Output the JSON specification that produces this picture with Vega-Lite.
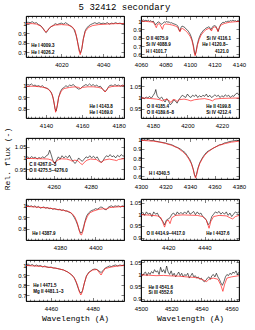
{
"$schema": "https://vega.github.io/schema/vega-lite/v6.json",
"autosize": {"type": "pad"},
"padding": {"left": 2, "top": 3, "right": 4, "bottom": 3},
"title": {"text": "5 32412 secondary", "font": "Liberation Mono", "fontSize": 9, "fontWeight": "normal", "anchor": "middle", "offset": 3, "color": "black"},
"datasets": {
"o1": [{"w":4003,"f":1.01},{"w":4004,"f":1.015},{"w":4005,"f":1.01},{"w":4006,"f":1.02},{"w":4007,"f":1.005},{"w":4008,"f":1.01},{"w":4009,"f":0.99},{"w":4010,"f":0.98},{"w":4011,"f":0.955},{"w":4012,"f":0.92},{"w":4012.7,"f":0.905},{"w":4013.5,"f":0.93},{"w":4014.5,"f":0.96},{"w":4016,"f":0.98},{"w":4017,"f":1.0},{"w":4018,"f":0.99},{"w":4019,"f":1.0},{"w":4020,"f":1.005},{"w":4021,"f":0.995},{"w":4022,"f":1.01},{"w":4023,"f":0.995},{"w":4024,"f":0.98},{"w":4025,"f":0.965},{"w":4026,"f":0.94},{"w":4027,"f":0.88},{"w":4028,"f":0.78},{"w":4028.7,"f":0.71},{"w":4029.2,"f":0.695},{"w":4029.8,"f":0.74},{"w":4030.5,"f":0.84},{"w":4031.3,"f":0.92},{"w":4032,"f":0.95},{"w":4033,"f":0.975},{"w":4034,"f":0.99},{"w":4035,"f":1.0},{"w":4036,"f":1.01},{"w":4037,"f":1.0},{"w":4038,"f":1.01},{"w":4039,"f":1.0},{"w":4040,"f":1.005},{"w":4041,"f":1.0},{"w":4042,"f":1.01},{"w":4043,"f":0.995},{"w":4044,"f":1.005},{"w":4045,"f":1.0},{"w":4046,"f":1.01},{"w":4047,"f":1.0},{"w":4048,"f":1.005},{"w":4049,"f":1.0},{"w":4050,"f":1.0}],
"m1": [{"w":4003,"f":1.0},{"w":4006,"f":1.0},{"w":4008,"f":0.995},{"w":4010,"f":0.975},{"w":4011.5,"f":0.94},{"w":4012.5,"f":0.91},{"w":4013.5,"f":0.935},{"w":4015,"f":0.97},{"w":4017,"f":0.985},{"w":4020,"f":0.99},{"w":4023,"f":0.985},{"w":4025,"f":0.97},{"w":4026.5,"f":0.93},{"w":4027.5,"f":0.84},{"w":4028.3,"f":0.73},{"w":4029,"f":0.675},{"w":4029.7,"f":0.73},{"w":4030.5,"f":0.84},{"w":4031.5,"f":0.92},{"w":4033,"f":0.96},{"w":4035,"f":0.98},{"w":4038,"f":0.99},{"w":4042,"f":0.995},{"w":4046,"f":1.0},{"w":4050,"f":1.0}],
"a1": [{"w":4005.5,"f":0.765,"t":"He I 4009.3"},{"w":4005.5,"f":0.695,"t":"He I 4026.2"}],
"o2": [{"w":4060,"f":1.01},{"w":4061,"f":1.005},{"w":4062,"f":1.015},{"w":4063,"f":1.0},{"w":4064,"f":1.01},{"w":4065,"f":1.0},{"w":4066,"f":1.01},{"w":4067,"f":0.995},{"w":4068,"f":1.005},{"w":4069,"f":0.99},{"w":4070,"f":1.0},{"w":4071,"f":0.975},{"w":4072,"f":0.955},{"w":4073,"f":0.975},{"w":4074,"f":0.99},{"w":4075,"f":0.985},{"w":4076,"f":0.97},{"w":4077,"f":0.96},{"w":4078,"f":0.975},{"w":4079,"f":0.99},{"w":4080,"f":0.985},{"w":4081,"f":0.995},{"w":4082,"f":0.985},{"w":4083,"f":0.99},{"w":4084,"f":0.975},{"w":4085,"f":0.98},{"w":4086,"f":0.97},{"w":4087,"f":0.965},{"w":4088,"f":0.96},{"w":4089,"f":0.955},{"w":4090,"f":0.94},{"w":4091,"f":0.9},{"w":4091.8,"f":0.88},{"w":4092.6,"f":0.92},{"w":4093.5,"f":0.94},{"w":4095,"f":0.93},{"w":4096,"f":0.92},{"w":4097,"f":0.9},{"w":4098,"f":0.89},{"w":4099,"f":0.87},{"w":4100,"f":0.845},{"w":4101,"f":0.81},{"w":4102,"f":0.76},{"w":4103,"f":0.69},{"w":4103.8,"f":0.62},{"w":4104.3,"f":0.6},{"w":4105,"f":0.64},{"w":4106,"f":0.72},{"w":4107,"f":0.78},{"w":4108,"f":0.82},{"w":4109,"f":0.85},{"w":4110,"f":0.87},{"w":4111,"f":0.89},{"w":4112,"f":0.9},{"w":4113,"f":0.915},{"w":4114,"f":0.92},{"w":4115,"f":0.93},{"w":4116,"f":0.925},{"w":4117,"f":0.895},{"w":4118,"f":0.92},{"w":4119,"f":0.94},{"w":4120,"f":0.945},{"w":4121,"f":0.94},{"w":4122,"f":0.91},{"w":4123,"f":0.875},{"w":4124,"f":0.92},{"w":4125,"f":0.96},{"w":4126,"f":0.975},{"w":4127,"f":0.985},{"w":4128,"f":0.98},{"w":4129,"f":0.995},{"w":4130,"f":0.99},{"w":4131,"f":1.0},{"w":4132,"f":0.995},{"w":4133,"f":1.005},{"w":4134,"f":1.0},{"w":4135,"f":1.01},{"w":4136,"f":1.0},{"w":4137,"f":1.005},{"w":4138,"f":0.995},{"w":4139,"f":1.005},{"w":4140,"f":1.0}],
"m2": [{"w":4060,"f":1.0},{"w":4064,"f":0.995},{"w":4068,"f":0.99},{"w":4070,"f":0.985},{"w":4071.5,"f":0.95},{"w":4072.5,"f":0.92},{"w":4073.5,"f":0.96},{"w":4075,"f":0.97},{"w":4076.5,"f":0.93},{"w":4077.5,"f":0.9},{"w":4078.5,"f":0.95},{"w":4080,"f":0.965},{"w":4083,"f":0.96},{"w":4086,"f":0.95},{"w":4088,"f":0.94},{"w":4090,"f":0.925},{"w":4091,"f":0.89},{"w":4091.8,"f":0.87},{"w":4092.6,"f":0.905},{"w":4094,"f":0.91},{"w":4096,"f":0.89},{"w":4098,"f":0.86},{"w":4100,"f":0.82},{"w":4101.5,"f":0.77},{"w":4102.5,"f":0.71},{"w":4103.5,"f":0.62},{"w":4104.2,"f":0.585},{"w":4105,"f":0.63},{"w":4106,"f":0.71},{"w":4107.5,"f":0.78},{"w":4109,"f":0.83},{"w":4111,"f":0.87},{"w":4113,"f":0.895},{"w":4115,"f":0.91},{"w":4116.5,"f":0.905},{"w":4117.5,"f":0.88},{"w":4118.5,"f":0.915},{"w":4120,"f":0.93},{"w":4121.5,"f":0.92},{"w":4122.8,"f":0.875},{"w":4123.8,"f":0.92},{"w":4125,"f":0.95},{"w":4128,"f":0.97},{"w":4132,"f":0.985},{"w":4136,"f":0.99},{"w":4140,"f":0.995}],
"a2": [{"w":4064,"f":0.785,"t":"O II 4075.9"},{"w":4064,"f":0.708,"t":"Si IV 4088.9"},{"w":4064,"f":0.63,"t":"H I 4101.7"},{"w":4113.5,"f":0.785,"t":"Si IV 4116.1"},{"w":4110,"f":0.708,"t":"He I 4120.8–"},{"w":4120.4,"f":0.63,"t":"4121.0"}],
"o3": [{"w":4129,"f":1.0},{"w":4130,"f":1.01},{"w":4131,"f":1.005},{"w":4132,"f":1.015},{"w":4133,"f":1.0},{"w":4134,"f":1.005},{"w":4135,"f":0.995},{"w":4136,"f":1.0},{"w":4137,"f":0.99},{"w":4138,"f":1.0},{"w":4139,"f":0.985},{"w":4140,"f":0.98},{"w":4141,"f":0.975},{"w":4142,"f":0.96},{"w":4143,"f":0.94},{"w":4144,"f":0.89},{"w":4145,"f":0.8},{"w":4145.6,"f":0.78},{"w":4146.3,"f":0.83},{"w":4147,"f":0.9},{"w":4148,"f":0.95},{"w":4149,"f":0.975},{"w":4150,"f":0.985},{"w":4151,"f":1.0},{"w":4152,"f":0.99},{"w":4153,"f":1.005},{"w":4154,"f":1.0},{"w":4155,"f":1.01},{"w":4156,"f":0.995},{"w":4157,"f":0.98},{"w":4158,"f":0.97},{"w":4159,"f":0.975},{"w":4160,"f":0.99},{"w":4161,"f":1.0},{"w":4162,"f":1.01},{"w":4163,"f":1.0},{"w":4164,"f":1.015},{"w":4165,"f":1.0},{"w":4166,"f":1.01},{"w":4167,"f":0.995},{"w":4168,"f":1.005},{"w":4169,"f":0.99},{"w":4170,"f":0.995},{"w":4171,"f":0.975},{"w":4172,"f":0.955},{"w":4172.8,"f":0.95},{"w":4173.5,"f":0.965},{"w":4174.5,"f":0.99},{"w":4175,"f":1.0},{"w":4176,"f":1.005},{"w":4177,"f":0.995},{"w":4178,"f":1.01},{"w":4179,"f":1.0},{"w":4180,"f":1.005},{"w":4181,"f":0.995},{"w":4182,"f":1.005},{"w":4183,"f":1.0}],
"m3": [{"w":4129,"f":0.995},{"w":4133,"f":0.995},{"w":4137,"f":0.99},{"w":4140,"f":0.98},{"w":4142,"f":0.96},{"w":4143.5,"f":0.92},{"w":4144.5,"f":0.85},{"w":4145.3,"f":0.77},{"w":4146,"f":0.81},{"w":4147,"f":0.9},{"w":4148.5,"f":0.955},{"w":4150,"f":0.975},{"w":4153,"f":0.985},{"w":4156,"f":0.99},{"w":4158,"f":0.985},{"w":4159,"f":0.975},{"w":4160,"f":0.985},{"w":4163,"f":0.99},{"w":4166,"f":0.99},{"w":4169,"f":0.985},{"w":4171,"f":0.975},{"w":4172,"f":0.955},{"w":4172.6,"f":0.945},{"w":4173.3,"f":0.96},{"w":4174.5,"f":0.985},{"w":4177,"f":0.995},{"w":4180,"f":0.995},{"w":4183,"f":1.0}],
"a3": [{"w":4164,"f":0.813,"t":"He I 4143.8"},{"w":4164,"f":0.76,"t":"He I 4169.0"}],
"o4": [{"w":4173,"f":0.998},{"w":4174,"f":1.0},{"w":4175,"f":0.995},{"w":4176,"f":1.002},{"w":4177,"f":0.998},{"w":4178,"f":1.005},{"w":4179,"f":0.997},{"w":4180,"f":1.008},{"w":4181,"f":1.02},{"w":4181.6,"f":1.035},{"w":4182.3,"f":1.01},{"w":4183,"f":1.0},{"w":4184,"f":0.995},{"w":4185,"f":1.002},{"w":4186,"f":0.99},{"w":4187,"f":0.98},{"w":4188,"f":0.995},{"w":4189,"f":0.985},{"w":4190,"f":0.968},{"w":4191,"f":0.975},{"w":4192,"f":0.99},{"w":4193,"f":0.985},{"w":4194,"f":0.975},{"w":4195,"f":0.99},{"w":4196,"f":1.0},{"w":4197,"f":1.01},{"w":4198,"f":1.005},{"w":4199,"f":1.0},{"w":4200,"f":1.015},{"w":4201,"f":1.005},{"w":4202,"f":1.0},{"w":4203,"f":1.01},{"w":4204,"f":1.005},{"w":4205,"f":1.012},{"w":4206,"f":1.0},{"w":4207,"f":1.008},{"w":4208,"f":1.002},{"w":4209,"f":1.01},{"w":4210,"f":1.005},{"w":4211,"f":1.015},{"w":4212,"f":1.002},{"w":4213,"f":1.01},{"w":4214,"f":1.0},{"w":4215,"f":1.005},{"w":4216,"f":1.012},{"w":4217,"f":1.005},{"w":4218,"f":1.01},{"w":4219,"f":1.0},{"w":4220,"f":1.008},{"w":4221,"f":1.002},{"w":4222,"f":1.012},{"w":4223,"f":1.005},{"w":4224,"f":1.01},{"w":4225,"f":1.0},{"w":4226,"f":1.008},{"w":4227,"f":1.005},{"w":4228,"f":1.015},{"w":4229,"f":1.02},{"w":4230,"f":1.01}],
"m4": [{"w":4173,"f":0.998},{"w":4176,"f":0.997},{"w":4179,"f":0.995},{"w":4182,"f":0.993},{"w":4184,"f":0.99},{"w":4185.5,"f":0.985},{"w":4186.5,"f":0.99},{"w":4188,"f":0.992},{"w":4189.5,"f":0.985},{"w":4190.5,"f":0.978},{"w":4191.5,"f":0.99},{"w":4193,"f":0.99},{"w":4194,"f":0.982},{"w":4195,"f":0.99},{"w":4198,"f":0.993},{"w":4200,"f":0.99},{"w":4202,"f":0.985},{"w":4204,"f":0.99},{"w":4207,"f":0.993},{"w":4210,"f":0.995},{"w":4213,"f":0.99},{"w":4214.5,"f":0.985},{"w":4216,"f":0.993},{"w":4220,"f":0.996},{"w":4225,"f":0.997},{"w":4230,"f":0.998}],
"a4": [{"w":4176.3,"f":0.96,"t":"O II 4185.4"},{"w":4176.3,"f":0.93,"t":"O II 4189.6–8"},{"w":4211,"f":0.96,"t":"He II 4199.8"},{"w":4211,"f":0.93,"t":"Si IV 4212.4"}],
"o5": [{"w":4245,"f":1.0},{"w":4246,"f":1.005},{"w":4247,"f":0.998},{"w":4248,"f":1.006},{"w":4249,"f":1.0},{"w":4250,"f":1.004},{"w":4251,"f":0.995},{"w":4252,"f":1.002},{"w":4253,"f":0.998},{"w":4254,"f":1.005},{"w":4255,"f":1.0},{"w":4256,"f":1.01},{"w":4257,"f":1.015},{"w":4257.8,"f":1.035},{"w":4258.6,"f":1.015},{"w":4259.5,"f":0.99},{"w":4260.5,"f":0.975},{"w":4261.5,"f":0.99},{"w":4262.5,"f":1.005},{"w":4263.5,"f":0.995},{"w":4264.5,"f":1.01},{"w":4265.5,"f":1.0},{"w":4266.5,"f":1.008},{"w":4267.5,"f":1.0},{"w":4268.5,"f":1.012},{"w":4269.5,"f":0.995},{"w":4270.5,"f":0.985},{"w":4271.5,"f":0.975},{"w":4272.5,"f":0.985},{"w":4273.5,"f":1.0},{"w":4274.5,"f":0.99},{"w":4275.5,"f":0.985},{"w":4276.5,"f":0.995},{"w":4277.5,"f":1.005},{"w":4278.5,"f":1.0},{"w":4279.5,"f":1.01},{"w":4280.5,"f":1.0},{"w":4281.5,"f":1.008},{"w":4282.5,"f":0.998},{"w":4283.5,"f":1.005},{"w":4284.5,"f":0.99},{"w":4285.5,"f":0.98},{"w":4286.5,"f":0.985},{"w":4287.5,"f":1.0},{"w":4288.5,"f":1.01},{"w":4289.5,"f":1.005},{"w":4290.5,"f":1.015},{"w":4291.5,"f":1.005},{"w":4292.5,"f":1.01},{"w":4293.5,"f":1.0},{"w":4294.5,"f":1.012},{"w":4295.5,"f":1.005},{"w":4296.5,"f":1.015},{"w":4297.5,"f":1.008},{"w":4298,"f":1.01}],
"m5": [{"w":4245,"f":0.998},{"w":4250,"f":0.997},{"w":4254,"f":0.996},{"w":4257,"f":0.995},{"w":4259,"f":0.99},{"w":4260.5,"f":0.975},{"w":4262,"f":0.99},{"w":4264,"f":0.996},{"w":4267,"f":0.995},{"w":4269,"f":0.99},{"w":4270,"f":0.985},{"w":4271,"f":0.99},{"w":4273,"f":0.988},{"w":4274.5,"f":0.975},{"w":4275.5,"f":0.97},{"w":4276.5,"f":0.98},{"w":4278,"f":0.99},{"w":4280,"f":0.995},{"w":4283,"f":0.993},{"w":4285,"f":0.982},{"w":4286,"f":0.98},{"w":4287,"f":0.99},{"w":4290,"f":0.995},{"w":4293,"f":0.99},{"w":4294,"f":0.988},{"w":4295,"f":0.993},{"w":4298,"f":0.997}],
"a5": [{"w":4246.7,"f":0.968,"t":"C II 4267.0–3"},{"w":4246.7,"f":0.94,"t":"O II 4275.5–4276.0"}],
"o6": [{"w":4300,"f":1.0},{"w":4302,"f":1.01},{"w":4304,"f":0.995},{"w":4306,"f":1.005},{"w":4308,"f":0.99},{"w":4310,"f":0.995},{"w":4312,"f":0.985},{"w":4314,"f":0.98},{"w":4316,"f":0.975},{"w":4318,"f":0.97},{"w":4320,"f":0.965},{"w":4322,"f":0.955},{"w":4324,"f":0.95},{"w":4326,"f":0.94},{"w":4328,"f":0.925},{"w":4330,"f":0.915},{"w":4332,"f":0.9},{"w":4334,"f":0.88},{"w":4336,"f":0.86},{"w":4338,"f":0.82},{"w":4340,"f":0.78},{"w":4341.5,"f":0.73},{"w":4342.8,"f":0.67},{"w":4343.8,"f":0.61},{"w":4344.5,"f":0.595},{"w":4345.3,"f":0.62},{"w":4346.5,"f":0.69},{"w":4348,"f":0.75},{"w":4350,"f":0.8},{"w":4352,"f":0.84},{"w":4354,"f":0.87},{"w":4356,"f":0.885},{"w":4358,"f":0.9},{"w":4360,"f":0.915},{"w":4362,"f":0.93},{"w":4364,"f":0.945},{"w":4366,"f":0.95},{"w":4368,"f":0.965},{"w":4370,"f":0.97},{"w":4372,"f":0.98},{"w":4374,"f":0.985},{"w":4376,"f":0.99},{"w":4378,"f":0.995},{"w":4380,"f":0.99}],
"m6": [{"w":4300,"f":0.995},{"w":4305,"f":0.99},{"w":4310,"f":0.985},{"w":4315,"f":0.975},{"w":4320,"f":0.96},{"w":4325,"f":0.94},{"w":4330,"f":0.91},{"w":4334,"f":0.87},{"w":4337,"f":0.83},{"w":4339,"f":0.79},{"w":4341,"f":0.74},{"w":4342.5,"f":0.68},{"w":4343.7,"f":0.61},{"w":4344.5,"f":0.58},{"w":4345.3,"f":0.61},{"w":4346.5,"f":0.68},{"w":4348,"f":0.74},{"w":4350,"f":0.79},{"w":4352,"f":0.83},{"w":4355,"f":0.87},{"w":4359,"f":0.91},{"w":4364,"f":0.94},{"w":4369,"f":0.96},{"w":4374,"f":0.975},{"w":4380,"f":0.985}],
"a6": [{"w":4306.5,"f":0.63,"t":"H I 4340.5"}],
"o7": [{"w":4361,"f":1.0},{"w":4362,"f":1.005},{"w":4363,"f":0.995},{"w":4364,"f":1.0},{"w":4365,"f":0.99},{"w":4366,"f":1.0},{"w":4367,"f":0.985},{"w":4368,"f":0.995},{"w":4369,"f":0.98},{"w":4370,"f":0.985},{"w":4371,"f":0.99},{"w":4372,"f":0.98},{"w":4373,"f":0.985},{"w":4374,"f":0.975},{"w":4375,"f":0.98},{"w":4376,"f":0.97},{"w":4377,"f":0.975},{"w":4378,"f":0.97},{"w":4379,"f":0.965},{"w":4380,"f":0.97},{"w":4381,"f":0.96},{"w":4382,"f":0.965},{"w":4383,"f":0.955},{"w":4384,"f":0.955},{"w":4385,"f":0.945},{"w":4386,"f":0.94},{"w":4387,"f":0.925},{"w":4388,"f":0.9},{"w":4389,"f":0.87},{"w":4390,"f":0.83},{"w":4391,"f":0.78},{"w":4391.8,"f":0.76},{"w":4392.6,"f":0.775},{"w":4393.4,"f":0.82},{"w":4394.2,"f":0.87},{"w":4395,"f":0.91},{"w":4396,"f":0.935},{"w":4397,"f":0.95},{"w":4398,"f":0.96},{"w":4399,"f":0.965},{"w":4400,"f":0.975},{"w":4401,"f":0.97},{"w":4402,"f":0.98},{"w":4403,"f":0.99},{"w":4404,"f":0.985},{"w":4405,"f":0.97},{"w":4406,"f":0.965},{"w":4407,"f":0.985},{"w":4408,"f":0.995},{"w":4409,"f":1.0},{"w":4410,"f":0.99},{"w":4411,"f":1.0},{"w":4412,"f":0.995},{"w":4413,"f":1.0},{"w":4414,"f":0.99},{"w":4415,"f":1.0},{"w":4416,"f":0.995}],
"m7": [{"w":4361,"f":0.995},{"w":4366,"f":0.99},{"w":4370,"f":0.985},{"w":4374,"f":0.98},{"w":4378,"f":0.97},{"w":4382,"f":0.96},{"w":4385,"f":0.95},{"w":4387,"f":0.93},{"w":4388.5,"f":0.9},{"w":4389.8,"f":0.85},{"w":4390.8,"f":0.79},{"w":4391.5,"f":0.75},{"w":4392.2,"f":0.745},{"w":4393,"f":0.78},{"w":4394,"f":0.85},{"w":4395.5,"f":0.91},{"w":4397,"f":0.94},{"w":4399,"f":0.955},{"w":4402,"f":0.97},{"w":4405,"f":0.975},{"w":4406,"f":0.97},{"w":4408,"f":0.985},{"w":4412,"f":0.99},{"w":4416,"f":0.995}],
"a7": [{"w":4364.5,"f":0.755,"t":"He I 4387.9"}],
"o8": [{"w":4405,"f":1.0},{"w":4406,"f":1.008},{"w":4407,"f":0.995},{"w":4408,"f":1.01},{"w":4409,"f":1.0},{"w":4410,"f":1.005},{"w":4411,"f":0.99},{"w":4412,"f":1.01},{"w":4413,"f":1.0},{"w":4414,"f":1.005},{"w":4415,"f":0.99},{"w":4416,"f":0.98},{"w":4417,"f":0.97},{"w":4418,"f":0.955},{"w":4419,"f":0.975},{"w":4420,"f":0.98},{"w":4421,"f":0.985},{"w":4422,"f":1.0},{"w":4423,"f":1.005},{"w":4424,"f":0.995},{"w":4425,"f":1.01},{"w":4426,"f":1.0},{"w":4427,"f":1.008},{"w":4428,"f":1.0},{"w":4429,"f":1.01},{"w":4430,"f":1.002},{"w":4431,"f":1.015},{"w":4432,"f":1.0},{"w":4433,"f":1.005},{"w":4434,"f":1.012},{"w":4435,"f":0.998},{"w":4436,"f":1.01},{"w":4437,"f":1.0},{"w":4438,"f":1.005},{"w":4439,"f":0.99},{"w":4440,"f":0.985},{"w":4441,"f":0.975},{"w":4442,"f":0.955},{"w":4443,"f":0.965},{"w":4444,"f":0.99},{"w":4445,"f":1.0},{"w":4446,"f":1.01},{"w":4447,"f":1.005},{"w":4448,"f":1.012},{"w":4449,"f":1.0},{"w":4450,"f":1.008},{"w":4451,"f":1.0},{"w":4452,"f":1.01},{"w":4453,"f":0.995},{"w":4454,"f":1.005},{"w":4455,"f":0.99},{"w":4456,"f":1.0},{"w":4457,"f":1.01},{"w":4458,"f":1.005},{"w":4459,"f":1.01}],
"m8": [{"w":4405,"f":0.998},{"w":4410,"f":0.996},{"w":4414,"f":0.993},{"w":4416,"f":0.985},{"w":4417,"f":0.965},{"w":4418,"f":0.945},{"w":4419,"f":0.97},{"w":4420,"f":0.975},{"w":4421,"f":0.96},{"w":4422,"f":0.985},{"w":4424,"f":0.995},{"w":4428,"f":0.997},{"w":4432,"f":0.996},{"w":4436,"f":0.995},{"w":4439,"f":0.99},{"w":4441,"f":0.975},{"w":4442.5,"f":0.94},{"w":4443.5,"f":0.97},{"w":4445,"f":0.99},{"w":4448,"f":0.995},{"w":4452,"f":0.993},{"w":4454,"f":0.985},{"w":4455.5,"f":0.98},{"w":4457,"f":0.99},{"w":4459,"f":0.995}],
"a8": [{"w":4408,"f":0.915,"t":"O II 4414.9–4417.0"},{"w":4441,"f":0.915,"t":"He I 4437.6"}],
"o9": [{"w":4448,"f":1.0},{"w":4449,"f":1.01},{"w":4450,"f":0.995},{"w":4451,"f":1.005},{"w":4452,"f":0.99},{"w":4453,"f":1.0},{"w":4454,"f":0.99},{"w":4455,"f":0.995},{"w":4456,"f":0.98},{"w":4457,"f":0.99},{"w":4458,"f":0.98},{"w":4459,"f":0.975},{"w":4460,"f":0.98},{"w":4461,"f":0.97},{"w":4462,"f":0.97},{"w":4463,"f":0.965},{"w":4464,"f":0.96},{"w":4465,"f":0.955},{"w":4466,"f":0.95},{"w":4467,"f":0.94},{"w":4468,"f":0.93},{"w":4469,"f":0.915},{"w":4470,"f":0.9},{"w":4471,"f":0.875},{"w":4472,"f":0.83},{"w":4473,"f":0.77},{"w":4473.8,"f":0.73},{"w":4474.4,"f":0.72},{"w":4475.1,"f":0.745},{"w":4476,"f":0.82},{"w":4477,"f":0.89},{"w":4478,"f":0.925},{"w":4479,"f":0.94},{"w":4480,"f":0.955},{"w":4481,"f":0.96},{"w":4482,"f":0.955},{"w":4483,"f":0.94},{"w":4484,"f":0.925},{"w":4485,"f":0.945},{"w":4486,"f":0.97},{"w":4487,"f":0.98},{"w":4488,"f":0.99},{"w":4489,"f":0.985},{"w":4490,"f":0.995},{"w":4491,"f":1.0},{"w":4492,"f":0.99},{"w":4493,"f":1.0},{"w":4494,"f":0.995},{"w":4495,"f":1.0}],
"m9": [{"w":4448,"f":0.995},{"w":4452,"f":0.99},{"w":4456,"f":0.985},{"w":4460,"f":0.975},{"w":4463,"f":0.965},{"w":4466,"f":0.95},{"w":4468,"f":0.93},{"w":4470,"f":0.9},{"w":4471.5,"f":0.86},{"w":4472.7,"f":0.8},{"w":4473.6,"f":0.73},{"w":4474.3,"f":0.7},{"w":4475,"f":0.73},{"w":4476,"f":0.82},{"w":4477,"f":0.89},{"w":4478.5,"f":0.93},{"w":4480,"f":0.95},{"w":4482,"f":0.955},{"w":4483.3,"f":0.92},{"w":4484,"f":0.9},{"w":4484.8,"f":0.93},{"w":4486,"f":0.965},{"w":4489,"f":0.98},{"w":4492,"f":0.99},{"w":4495,"f":0.995}],
"a9": [{"w":4451.5,"f":0.79,"t":"He I 4471.5"},{"w":4451.5,"f":0.73,"t":"Mg II 4481.1–3"}],
"o10": [{"w":4500,"f":1.0},{"w":4501,"f":0.995},{"w":4502,"f":1.005},{"w":4503,"f":1.01},{"w":4504,"f":0.995},{"w":4505,"f":1.008},{"w":4506,"f":1.0},{"w":4507,"f":1.012},{"w":4508,"f":1.005},{"w":4509,"f":1.02},{"w":4510,"f":1.01},{"w":4511,"f":1.015},{"w":4512,"f":1.0},{"w":4513,"f":1.03},{"w":4514,"f":1.01},{"w":4515,"f":1.02},{"w":4516,"f":1.005},{"w":4517,"f":1.035},{"w":4518,"f":1.01},{"w":4519,"f":1.0},{"w":4520,"f":1.015},{"w":4521,"f":0.995},{"w":4522,"f":1.005},{"w":4523,"f":0.99},{"w":4524,"f":1.0},{"w":4525,"f":1.01},{"w":4526,"f":0.995},{"w":4527,"f":1.005},{"w":4528,"f":0.99},{"w":4529,"f":1.0},{"w":4530,"f":0.995},{"w":4531,"f":1.005},{"w":4532,"f":0.985},{"w":4533,"f":0.995},{"w":4534,"f":1.005},{"w":4535,"f":0.99},{"w":4536,"f":0.995},{"w":4537,"f":0.985},{"w":4538,"f":0.99},{"w":4539,"f":0.98},{"w":4540,"f":0.985},{"w":4541,"f":0.975},{"w":4542,"f":0.97},{"w":4543,"f":0.975},{"w":4544,"f":0.985},{"w":4545,"f":0.99},{"w":4546,"f":0.98},{"w":4547,"f":0.995},{"w":4548,"f":1.0},{"w":4549,"f":0.99},{"w":4550,"f":1.005},{"w":4551,"f":0.99},{"w":4552,"f":0.98},{"w":4553,"f":0.965},{"w":4554,"f":0.955},{"w":4555,"f":0.97},{"w":4556,"f":0.99},{"w":4557,"f":1.0},{"w":4558,"f":0.995},{"w":4559,"f":1.005},{"w":4560,"f":1.0},{"w":4561,"f":1.01},{"w":4562,"f":1.005},{"w":4563,"f":1.015},{"w":4564,"f":1.0},{"w":4565,"f":1.01}],
"m10": [{"w":4500,"f":0.998},{"w":4505,"f":0.997},{"w":4510,"f":0.995},{"w":4515,"f":0.996},{"w":4520,"f":0.994},{"w":4525,"f":0.993},{"w":4530,"f":0.99},{"w":4535,"f":0.988},{"w":4538,"f":0.985},{"w":4541,"f":0.978},{"w":4543.5,"f":0.97},{"w":4545,"f":0.98},{"w":4548,"f":0.985},{"w":4551,"f":0.98},{"w":4553,"f":0.955},{"w":4554.3,"f":0.93},{"w":4555.5,"f":0.96},{"w":4557,"f":0.985},{"w":4560,"f":0.99},{"w":4565,"f":0.995}],
"a10": [{"w":4505,"f":0.945,"t":"He II 4541.6"},{"w":4505,"f":0.922,"t":"Si III 4552.6"}]
},
"columns": 2,
"spacing": {"row": 20, "column": 17},
"bounds": "flush",
"concat": [
{"width": 98, "height": 41, "layer": [
{"data": {"name": "o1"}, "mark": {"type": "line", "color": "black", "strokeWidth": 0.6, "clip": true}, "encoding": {"x": {"field": "w", "type": "quantitative", "scale": {"domain": [4003, 4050], "nice": false, "zero": false}, "axis": {"orient": "bottom", "format": "d", "tickCount": 25, "labelExpr": "datum.value % 20 === 0 ? datum.label : ''", "tickSize": {"condition": {"test": "datum.value % 20 === 0", "value": -3.5}, "value": -1.8}, "labelOverlap": false, "labelFlush": false, "title": null}}, "y": {"field": "f", "type": "quantitative", "scale": {"domain": [0.65, 1.08], "nice": false, "zero": false}, "axis": {"orient": "left", "values": [0.7, 0.8, 0.9, 1], "format": "~g", "tickSize": -3, "title": null}}}},
{"data": {"name": "m1"}, "mark": {"type": "line", "color": "#ff1a1a", "strokeWidth": 0.7, "clip": true}, "encoding": {"x": {"field": "w", "type": "quantitative", "axis": {"orient": "top", "tickCount": 25, "labels": false, "tickSize": {"condition": {"test": "datum.value % 20 === 0", "value": -3.5}, "value": -1.8}, "title": null}}, "y": {"field": "f", "type": "quantitative", "axis": {"orient": "right", "values": [0.7, 0.8, 0.9, 1], "labels": false, "tickSize": -3, "title": null}}}},
{"data": {"name": "a1"}, "mark": {"type": "text", "align": "left", "baseline": "middle", "fontSize": 4.5, "fontWeight": "bold", "font": "Liberation Sans", "color": "black"}, "encoding": {"x": {"field": "w", "type": "quantitative", "axis": null}, "y": {"field": "f", "type": "quantitative", "axis": null}, "text": {"field": "t"}}}
], "resolve": {"axis": {"x": "independent", "y": "independent"}}},
{"width": 98, "height": 41, "layer": [
{"data": {"name": "o2"}, "mark": {"type": "line", "color": "black", "strokeWidth": 0.6, "clip": true}, "encoding": {"x": {"field": "w", "type": "quantitative", "scale": {"domain": [4060, 4140], "nice": false, "zero": false}, "axis": {"orient": "bottom", "format": "d", "tickCount": 25, "labelExpr": "datum.value % 20 === 0 ? datum.label : ''", "tickSize": {"condition": {"test": "datum.value % 20 === 0", "value": -3.5}, "value": -1.8}, "labelOverlap": false, "labelFlush": false, "title": null}}, "y": {"field": "f", "type": "quantitative", "scale": {"domain": [0.57, 1.06], "nice": false, "zero": false}, "axis": {"orient": "left", "values": [0.6, 0.7, 0.8, 0.9, 1], "format": "~g", "tickSize": -3, "title": null}}}},
{"data": {"name": "m2"}, "mark": {"type": "line", "color": "#ff1a1a", "strokeWidth": 0.7, "clip": true}, "encoding": {"x": {"field": "w", "type": "quantitative", "axis": {"orient": "top", "tickCount": 25, "labels": false, "tickSize": {"condition": {"test": "datum.value % 20 === 0", "value": -3.5}, "value": -1.8}, "title": null}}, "y": {"field": "f", "type": "quantitative", "axis": {"orient": "right", "values": [0.6, 0.7, 0.8, 0.9, 1], "labels": false, "tickSize": -3, "title": null}}}},
{"data": {"name": "a2"}, "mark": {"type": "text", "align": "left", "baseline": "middle", "fontSize": 4.5, "fontWeight": "bold", "font": "Liberation Sans", "color": "black"}, "encoding": {"x": {"field": "w", "type": "quantitative", "axis": null}, "y": {"field": "f", "type": "quantitative", "axis": null}, "text": {"field": "t"}}}
], "resolve": {"axis": {"x": "independent", "y": "independent"}}},
{"width": 98, "height": 41, "layer": [
{"data": {"name": "o3"}, "mark": {"type": "line", "color": "black", "strokeWidth": 0.6, "clip": true}, "encoding": {"x": {"field": "w", "type": "quantitative", "scale": {"domain": [4129, 4183], "nice": false, "zero": false}, "axis": {"orient": "bottom", "format": "d", "tickCount": 25, "labelExpr": "datum.value % 20 === 0 ? datum.label : ''", "tickSize": {"condition": {"test": "datum.value % 20 === 0", "value": -3.5}, "value": -1.8}, "labelOverlap": false, "labelFlush": false, "title": null}}, "y": {"field": "f", "type": "quantitative", "scale": {"domain": [0.72, 1.075], "nice": false, "zero": false}, "axis": {"orient": "left", "values": [0.8, 0.9, 1], "format": "~g", "tickSize": -3, "title": null}}}},
{"data": {"name": "m3"}, "mark": {"type": "line", "color": "#ff1a1a", "strokeWidth": 0.7, "clip": true}, "encoding": {"x": {"field": "w", "type": "quantitative", "axis": {"orient": "top", "tickCount": 25, "labels": false, "tickSize": {"condition": {"test": "datum.value % 20 === 0", "value": -3.5}, "value": -1.8}, "title": null}}, "y": {"field": "f", "type": "quantitative", "axis": {"orient": "right", "values": [0.8, 0.9, 1], "labels": false, "tickSize": -3, "title": null}}}},
{"data": {"name": "a3"}, "mark": {"type": "text", "align": "left", "baseline": "middle", "fontSize": 4.5, "fontWeight": "bold", "font": "Liberation Sans", "color": "black"}, "encoding": {"x": {"field": "w", "type": "quantitative", "axis": null}, "y": {"field": "f", "type": "quantitative", "axis": null}, "text": {"field": "t"}}}
], "resolve": {"axis": {"x": "independent", "y": "independent"}}},
{"width": 98, "height": 41, "layer": [
{"data": {"name": "o4"}, "mark": {"type": "line", "color": "black", "strokeWidth": 0.6, "clip": true}, "encoding": {"x": {"field": "w", "type": "quantitative", "scale": {"domain": [4173, 4230], "nice": false, "zero": false}, "axis": {"orient": "bottom", "format": "d", "tickCount": 25, "labelExpr": "datum.value % 20 === 0 ? datum.label : ''", "tickSize": {"condition": {"test": "datum.value % 20 === 0", "value": -3.5}, "value": -1.8}, "labelOverlap": false, "labelFlush": false, "title": null}}, "y": {"field": "f", "type": "quantitative", "scale": {"domain": [0.91, 1.09], "nice": false, "zero": false}, "axis": {"orient": "left", "values": [0.95, 1, 1.05], "format": "~g", "tickSize": -3, "title": null}}}},
{"data": {"name": "m4"}, "mark": {"type": "line", "color": "#ff1a1a", "strokeWidth": 0.7, "clip": true}, "encoding": {"x": {"field": "w", "type": "quantitative", "axis": {"orient": "top", "tickCount": 25, "labels": false, "tickSize": {"condition": {"test": "datum.value % 20 === 0", "value": -3.5}, "value": -1.8}, "title": null}}, "y": {"field": "f", "type": "quantitative", "axis": {"orient": "right", "values": [0.95, 1, 1.05], "labels": false, "tickSize": -3, "title": null}}}},
{"data": {"name": "a4"}, "mark": {"type": "text", "align": "left", "baseline": "middle", "fontSize": 4.5, "fontWeight": "bold", "font": "Liberation Sans", "color": "black"}, "encoding": {"x": {"field": "w", "type": "quantitative", "axis": null}, "y": {"field": "f", "type": "quantitative", "axis": null}, "text": {"field": "t"}}}
], "resolve": {"axis": {"x": "independent", "y": "independent"}}},
{"width": 98, "height": 41, "layer": [
{"data": {"name": "o5"}, "mark": {"type": "line", "color": "black", "strokeWidth": 0.6, "clip": true}, "encoding": {"x": {"field": "w", "type": "quantitative", "scale": {"domain": [4245, 4298], "nice": false, "zero": false}, "axis": {"orient": "bottom", "format": "d", "tickCount": 25, "labelExpr": "datum.value % 20 === 0 ? datum.label : ''", "tickSize": {"condition": {"test": "datum.value % 20 === 0", "value": -3.5}, "value": -1.8}, "labelOverlap": false, "labelFlush": false, "title": null}}, "y": {"field": "f", "type": "quantitative", "scale": {"domain": [0.905, 1.09], "nice": false, "zero": false}, "axis": {"orient": "left", "values": [0.95, 1, 1.05], "format": "~g", "tickSize": -3, "title": "Rel. flux (-)", "titleFont": "Liberation Mono", "titleFontSize": 8, "titleFontWeight": "normal", "titlePadding": 3, "titleColor": "black"}}}},
{"data": {"name": "m5"}, "mark": {"type": "line", "color": "#ff1a1a", "strokeWidth": 0.7, "clip": true}, "encoding": {"x": {"field": "w", "type": "quantitative", "axis": {"orient": "top", "tickCount": 25, "labels": false, "tickSize": {"condition": {"test": "datum.value % 20 === 0", "value": -3.5}, "value": -1.8}, "title": null}}, "y": {"field": "f", "type": "quantitative", "axis": {"orient": "right", "values": [0.95, 1, 1.05], "labels": false, "tickSize": -3, "title": null}}}},
{"data": {"name": "a5"}, "mark": {"type": "text", "align": "left", "baseline": "middle", "fontSize": 4.5, "fontWeight": "bold", "font": "Liberation Sans", "color": "black"}, "encoding": {"x": {"field": "w", "type": "quantitative", "axis": null}, "y": {"field": "f", "type": "quantitative", "axis": null}, "text": {"field": "t"}}}
], "resolve": {"axis": {"x": "independent", "y": "independent"}}},
{"width": 98, "height": 41, "layer": [
{"data": {"name": "o6"}, "mark": {"type": "line", "color": "black", "strokeWidth": 0.6, "clip": true}, "encoding": {"x": {"field": "w", "type": "quantitative", "scale": {"domain": [4300, 4380], "nice": false, "zero": false}, "axis": {"orient": "bottom", "format": "d", "tickCount": 25, "labelExpr": "datum.value % 20 === 0 ? datum.label : ''", "tickSize": {"condition": {"test": "datum.value % 20 === 0", "value": -3.5}, "value": -1.8}, "labelOverlap": false, "labelFlush": false, "title": null}}, "y": {"field": "f", "type": "quantitative", "scale": {"domain": [0.57, 1.02], "nice": false, "zero": false}, "axis": {"orient": "left", "values": [0.6, 0.7, 0.8, 0.9, 1], "format": "~g", "tickSize": -3, "title": null}}}},
{"data": {"name": "m6"}, "mark": {"type": "line", "color": "#ff1a1a", "strokeWidth": 0.7, "clip": true}, "encoding": {"x": {"field": "w", "type": "quantitative", "axis": {"orient": "top", "tickCount": 25, "labels": false, "tickSize": {"condition": {"test": "datum.value % 20 === 0", "value": -3.5}, "value": -1.8}, "title": null}}, "y": {"field": "f", "type": "quantitative", "axis": {"orient": "right", "values": [0.6, 0.7, 0.8, 0.9, 1], "labels": false, "tickSize": -3, "title": null}}}},
{"data": {"name": "a6"}, "mark": {"type": "text", "align": "left", "baseline": "middle", "fontSize": 4.5, "fontWeight": "bold", "font": "Liberation Sans", "color": "black"}, "encoding": {"x": {"field": "w", "type": "quantitative", "axis": null}, "y": {"field": "f", "type": "quantitative", "axis": null}, "text": {"field": "t"}}}
], "resolve": {"axis": {"x": "independent", "y": "independent"}}},
{"width": 98, "height": 41, "layer": [
{"data": {"name": "o7"}, "mark": {"type": "line", "color": "black", "strokeWidth": 0.6, "clip": true}, "encoding": {"x": {"field": "w", "type": "quantitative", "scale": {"domain": [4361, 4416], "nice": false, "zero": false}, "axis": {"orient": "bottom", "format": "d", "tickCount": 25, "labelExpr": "datum.value % 20 === 0 ? datum.label : ''", "tickSize": {"condition": {"test": "datum.value % 20 === 0", "value": -3.5}, "value": -1.8}, "labelOverlap": false, "labelFlush": false, "title": null}}, "y": {"field": "f", "type": "quantitative", "scale": {"domain": [0.7, 1.06], "nice": false, "zero": false}, "axis": {"orient": "left", "values": [0.8, 0.9, 1], "format": "~g", "tickSize": -3, "title": null}}}},
{"data": {"name": "m7"}, "mark": {"type": "line", "color": "#ff1a1a", "strokeWidth": 0.7, "clip": true}, "encoding": {"x": {"field": "w", "type": "quantitative", "axis": {"orient": "top", "tickCount": 25, "labels": false, "tickSize": {"condition": {"test": "datum.value % 20 === 0", "value": -3.5}, "value": -1.8}, "title": null}}, "y": {"field": "f", "type": "quantitative", "axis": {"orient": "right", "values": [0.8, 0.9, 1], "labels": false, "tickSize": -3, "title": null}}}},
{"data": {"name": "a7"}, "mark": {"type": "text", "align": "left", "baseline": "middle", "fontSize": 4.5, "fontWeight": "bold", "font": "Liberation Sans", "color": "black"}, "encoding": {"x": {"field": "w", "type": "quantitative", "axis": null}, "y": {"field": "f", "type": "quantitative", "axis": null}, "text": {"field": "t"}}}
], "resolve": {"axis": {"x": "independent", "y": "independent"}}},
{"width": 98, "height": 41, "layer": [
{"data": {"name": "o8"}, "mark": {"type": "line", "color": "black", "strokeWidth": 0.6, "clip": true}, "encoding": {"x": {"field": "w", "type": "quantitative", "scale": {"domain": [4405, 4459], "nice": false, "zero": false}, "axis": {"orient": "bottom", "format": "d", "tickCount": 25, "labelExpr": "datum.value % 20 === 0 ? datum.label : ''", "tickSize": {"condition": {"test": "datum.value % 20 === 0", "value": -3.5}, "value": -1.8}, "labelOverlap": false, "labelFlush": false, "title": null}}, "y": {"field": "f", "type": "quantitative", "scale": {"domain": [0.89, 1.065], "nice": false, "zero": false}, "axis": {"orient": "left", "values": [0.9, 0.95, 1, 1.05], "format": "~g", "tickSize": -3, "title": null}}}},
{"data": {"name": "m8"}, "mark": {"type": "line", "color": "#ff1a1a", "strokeWidth": 0.7, "clip": true}, "encoding": {"x": {"field": "w", "type": "quantitative", "axis": {"orient": "top", "tickCount": 25, "labels": false, "tickSize": {"condition": {"test": "datum.value % 20 === 0", "value": -3.5}, "value": -1.8}, "title": null}}, "y": {"field": "f", "type": "quantitative", "axis": {"orient": "right", "values": [0.9, 0.95, 1, 1.05], "labels": false, "tickSize": -3, "title": null}}}},
{"data": {"name": "a8"}, "mark": {"type": "text", "align": "left", "baseline": "middle", "fontSize": 4.5, "fontWeight": "bold", "font": "Liberation Sans", "color": "black"}, "encoding": {"x": {"field": "w", "type": "quantitative", "axis": null}, "y": {"field": "f", "type": "quantitative", "axis": null}, "text": {"field": "t"}}}
], "resolve": {"axis": {"x": "independent", "y": "independent"}}},
{"width": 98, "height": 41, "layer": [
{"data": {"name": "o9"}, "mark": {"type": "line", "color": "black", "strokeWidth": 0.6, "clip": true}, "encoding": {"x": {"field": "w", "type": "quantitative", "scale": {"domain": [4448, 4495], "nice": false, "zero": false}, "axis": {"orient": "bottom", "format": "d", "tickCount": 25, "labelExpr": "datum.value % 20 === 0 ? datum.label : ''", "tickSize": {"condition": {"test": "datum.value % 20 === 0", "value": -3.5}, "value": -1.8}, "labelOverlap": false, "labelFlush": false, "title": "Wavelength (Å)", "titleFont": "Liberation Mono", "titleFontSize": 8, "titleFontWeight": "normal", "titlePadding": 1, "titleColor": "black"}}, "y": {"field": "f", "type": "quantitative", "scale": {"domain": [0.64, 1.05], "nice": false, "zero": false}, "axis": {"orient": "left", "values": [0.7, 0.8, 0.9, 1], "format": "~g", "tickSize": -3, "title": null}}}},
{"data": {"name": "m9"}, "mark": {"type": "line", "color": "#ff1a1a", "strokeWidth": 0.7, "clip": true}, "encoding": {"x": {"field": "w", "type": "quantitative", "axis": {"orient": "top", "tickCount": 25, "labels": false, "tickSize": {"condition": {"test": "datum.value % 20 === 0", "value": -3.5}, "value": -1.8}, "title": null}}, "y": {"field": "f", "type": "quantitative", "axis": {"orient": "right", "values": [0.7, 0.8, 0.9, 1], "labels": false, "tickSize": -3, "title": null}}}},
{"data": {"name": "a9"}, "mark": {"type": "text", "align": "left", "baseline": "middle", "fontSize": 4.5, "fontWeight": "bold", "font": "Liberation Sans", "color": "black"}, "encoding": {"x": {"field": "w", "type": "quantitative", "axis": null}, "y": {"field": "f", "type": "quantitative", "axis": null}, "text": {"field": "t"}}}
], "resolve": {"axis": {"x": "independent", "y": "independent"}}},
{"width": 98, "height": 41, "layer": [
{"data": {"name": "o10"}, "mark": {"type": "line", "color": "black", "strokeWidth": 0.6, "clip": true}, "encoding": {"x": {"field": "w", "type": "quantitative", "scale": {"domain": [4500, 4565], "nice": false, "zero": false}, "axis": {"orient": "bottom", "format": "d", "tickCount": 25, "labelExpr": "datum.value % 20 === 0 ? datum.label : ''", "tickSize": {"condition": {"test": "datum.value % 20 === 0", "value": -3.5}, "value": -1.8}, "labelOverlap": false, "labelFlush": false, "title": "Wavelength (Å)", "titleFont": "Liberation Mono", "titleFontSize": 8, "titleFontWeight": "normal", "titlePadding": 1, "titleColor": "black"}}, "y": {"field": "f", "type": "quantitative", "scale": {"domain": [0.89, 1.06], "nice": false, "zero": false}, "axis": {"orient": "left", "values": [0.9, 0.95, 1, 1.05], "format": "~g", "tickSize": -3, "title": null}}}},
{"data": {"name": "m10"}, "mark": {"type": "line", "color": "#ff1a1a", "strokeWidth": 0.7, "clip": true}, "encoding": {"x": {"field": "w", "type": "quantitative", "axis": {"orient": "top", "tickCount": 25, "labels": false, "tickSize": {"condition": {"test": "datum.value % 20 === 0", "value": -3.5}, "value": -1.8}, "title": null}}, "y": {"field": "f", "type": "quantitative", "axis": {"orient": "right", "values": [0.9, 0.95, 1, 1.05], "labels": false, "tickSize": -3, "title": null}}}},
{"data": {"name": "a10"}, "mark": {"type": "text", "align": "left", "baseline": "middle", "fontSize": 4.5, "fontWeight": "bold", "font": "Liberation Sans", "color": "black"}, "encoding": {"x": {"field": "w", "type": "quantitative", "axis": null}, "y": {"field": "f", "type": "quantitative", "axis": null}, "text": {"field": "t"}}}
], "resolve": {"axis": {"x": "independent", "y": "independent"}}}
],
"config": {
"view": {"stroke": "black", "strokeWidth": 0.8},
"axis": {"domainColor": "black", "domainWidth": 0.8, "tickColor": "black", "tickWidth": 0.5, "labelFont": "Liberation Sans", "labelFontSize": 6, "labelColor": "black", "labelPadding": 2, "grid": false},
"axisBottom": {"labelPadding": 8},
"axisLeft": {"labelPadding": 3}
}
}
